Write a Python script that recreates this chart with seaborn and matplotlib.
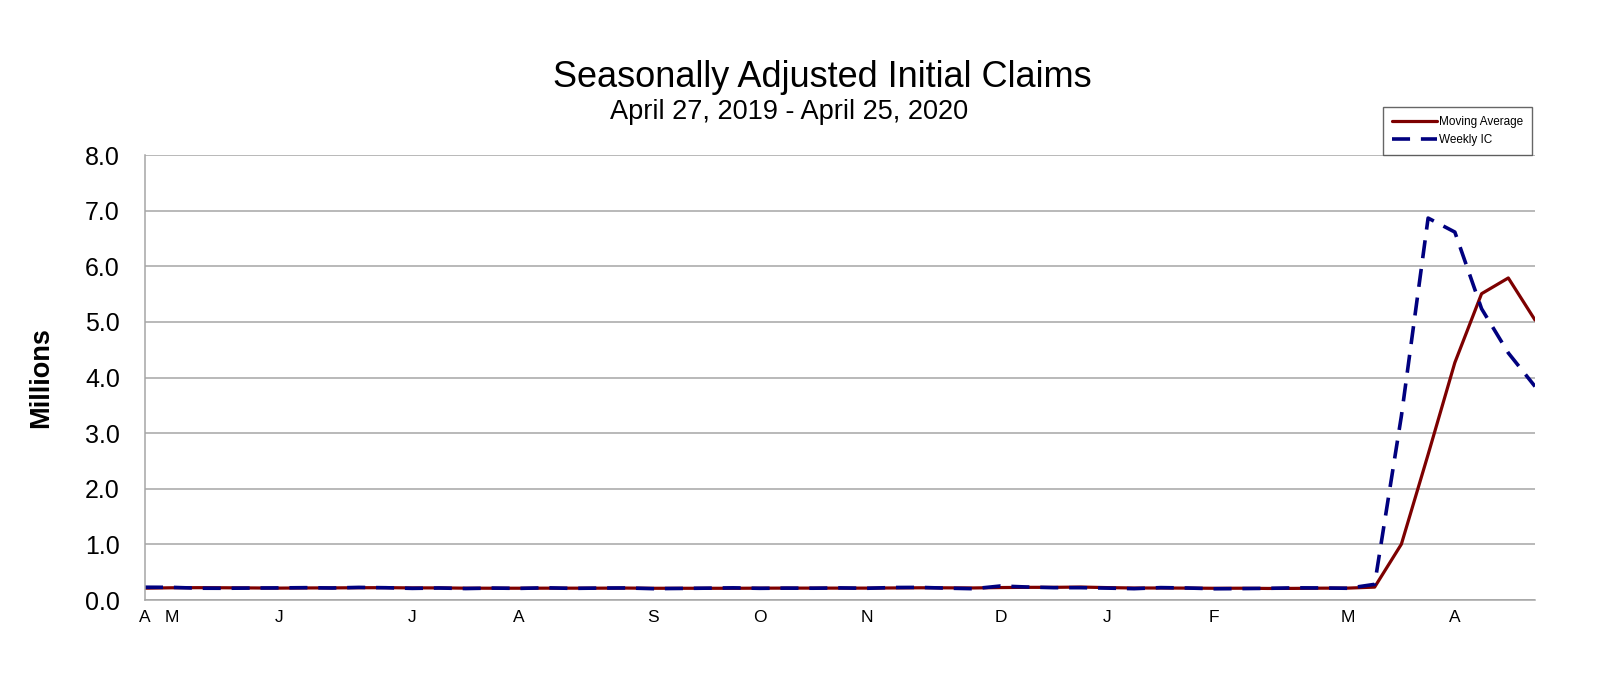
import numpy as np
import pandas as pd
import matplotlib
matplotlib.use("Agg")
import matplotlib.pyplot as plt
import seaborn as sns

# weekly data, Apr 27 2019 .. Apr 25 2020 (millions)
weekly_ic = [0.230, 0.228, 0.212, 0.211, 0.215, 0.218, 0.222, 0.216, 0.227, 0.221,
             0.209, 0.216, 0.206, 0.215, 0.209, 0.220, 0.209, 0.215, 0.217, 0.204,
             0.208, 0.213, 0.219, 0.210, 0.214, 0.212, 0.218, 0.211, 0.225, 0.227,
             0.213, 0.203, 0.252, 0.234, 0.222, 0.222, 0.214, 0.204, 0.223, 0.216,
             0.202, 0.205, 0.210, 0.219, 0.217, 0.211, 0.282, 3.307, 6.867, 6.615,
             5.237, 4.442, 3.839]
moving_avg = [0.213, 0.220, 0.222, 0.220, 0.217, 0.214, 0.217, 0.218, 0.221, 0.222,
              0.218, 0.218, 0.213, 0.212, 0.212, 0.213, 0.213, 0.213, 0.215, 0.211,
              0.211, 0.211, 0.211, 0.213, 0.214, 0.214, 0.214, 0.214, 0.217, 0.220,
              0.219, 0.217, 0.224, 0.228, 0.228, 0.233, 0.223, 0.216, 0.216, 0.214,
              0.211, 0.212, 0.208, 0.209, 0.213, 0.214, 0.232, 1.004, 2.617, 4.268,
              5.507, 5.790, 5.033]
week = list(range(len(weekly_ic)))

# month labels at the first week of each month
month_weeks = [0, 1, 5, 10, 14, 19, 23, 27, 32, 36, 40, 45, 49]
month_labels = ["A", "M", "J", "J", "A", "S", "O", "N", "D", "J", "F", "M", "A"]

df = pd.DataFrame({"week": week, "Moving Average": moving_avg, "Weekly IC": weekly_ic})

sns.set_theme(style="white")
plt.rcParams["font.family"] = ["Liberation Sans", "DejaVu Sans"]
plt.rcParams["text.color"] = "black"
plt.rcParams["axes.labelcolor"] = "black"
plt.rcParams["xtick.labelcolor"] = "black"
plt.rcParams["ytick.labelcolor"] = "black"

fig = plt.figure(figsize=(16, 6.83), dpi=100)
ax = fig.add_axes([0.0906, 0.1215, 0.8688, 0.6515])

sns.lineplot(data=df, x="week", y="Moving Average", ax=ax, color="#7d0000",
             linewidth=2.3, label="Moving Average")
sns.lineplot(data=df, x="week", y="Weekly IC", ax=ax, color="#00007f",
             linewidth=2.6, label="Weekly IC")
ax.lines[1].set_dashes((5, 3))

ax.set_xlim(0, 52)
ax.set_ylim(0, 8)
ax.set_yticks(np.arange(0, 9, 1))
ax.set_yticklabels([f"{v:.1f}" for v in np.arange(0, 9, 1)], fontsize=18)
ax.yaxis.grid(True, color="#a6a6a6", linewidth=1.1)
ax.set_axisbelow(True)

labels = [""] * len(week)
for w, lab in zip(month_weeks, month_labels):
    labels[w] = lab
ax.set_xticks(week)
ax.set_xticklabels(labels, fontsize=12.5)
ax.tick_params(axis="x", direction="out", length=5, width=1, color="#a6a6a6", pad=2)
ax.tick_params(axis="y", length=0, pad=18)

for side in ["top", "right"]:
    ax.spines[side].set_visible(False)
for side in ["left", "bottom"]:
    ax.spines[side].set_color("#a6a6a6")
    ax.spines[side].set_linewidth(1.1)

ax.set_xlabel("")
ax.set_ylabel("Millions", fontsize=19.5, fontweight="bold", labelpad=22)

fig.text(0.514, 0.887, "Seasonally Adjusted Initial Claims", fontsize=26,
         ha="center", va="center")
fig.text(0.493, 0.836, "April 27, 2019 - April 25, 2020", fontsize=19.5,
         ha="center", va="center")

leg = ax.legend(loc="lower right", bbox_to_anchor=(0.998, 1.0), fontsize=8.5,
                frameon=True, fancybox=False, edgecolor="#404040",
                handlelength=3.8, handletextpad=0.2, borderpad=0.75,
                labelspacing=0.5, borderaxespad=0.0)
leg.get_frame().set_linewidth(1.0)

fig.savefig("out.png", dpi=100)
